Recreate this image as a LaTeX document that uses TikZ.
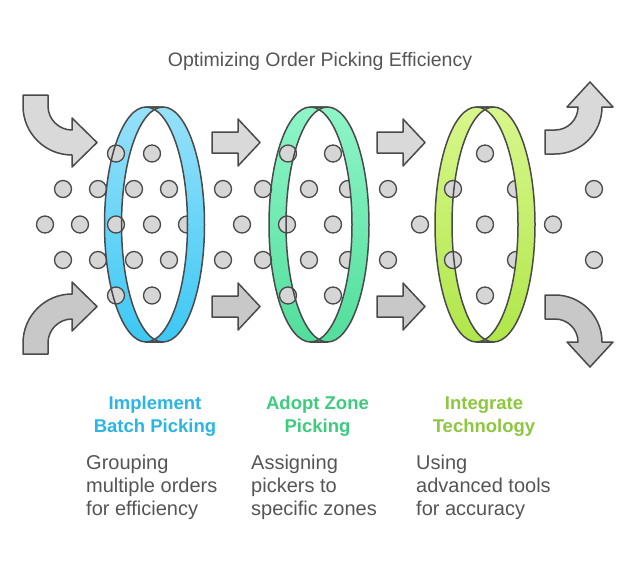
\documentclass[tikz,border=0pt]{standalone}
\usepackage{fontspec}
\setmainfont{Liberation Sans}
\definecolor{lineg}{HTML}{4A4A4A}
\definecolor{dotfill}{HTML}{D6D6D6}
\definecolor{arrlight}{HTML}{D9D9D9}
\definecolor{arrdark}{HTML}{C8C8C8}
\definecolor{txtg}{HTML}{555555}
\definecolor{bluet}{HTML}{96E1FA}
\definecolor{blueb}{HTML}{3CC8F4}
\definecolor{greent}{HTML}{8EF5C8}
\definecolor{greenb}{HTML}{52DE9C}
\definecolor{limet}{HTML}{D8F78C}
\definecolor{limeb}{HTML}{B0E64A}
\definecolor{headblue}{HTML}{2BB5E2}
\definecolor{headgreen}{HTML}{3DCB7E}
\definecolor{headlime}{HTML}{8DC63F}
\newcommand\leftbandpath[1]{({#1-8.5},107) arc[start angle=-90,end angle=-270,x radius=41.5,y radius=117.5] -- ({#1+8.5},342) arc[start angle=90,end angle=270,x radius=41.5,y radius=117.5] -- cycle}
\newcommand\rightbandpath[1]{({#1-8.5},107) arc[start angle=-90,end angle=90,x radius=41.5,y radius=117.5] -- ({#1+8.5},342) arc[start angle=90,end angle=-90,x radius=41.5,y radius=117.5] -- cycle}
\tikzset{
  outl/.style={draw=lineg, line width=1.5pt, line join=round},
  arrowlight/.style={outl, fill=arrlight},
  arrowdark/.style={outl, fill=arrdark},
  dotc/.style={draw=lineg, fill=dotfill, line width=1.3pt},
  titletxt/.style={text=txtg, font=\fontsize{19.5}{23}\selectfont, inner sep=0},
  headtxt/.style={font=\bfseries\fontsize{18.5}{22}\selectfont, inner sep=0},
  bodytxt/.style={text=txtg, font=\fontsize{20}{24}\selectfont, inner sep=0},
}
\begin{document}
\begin{tikzpicture}[x=1pt,y=-1pt]
\useasboundingbox (0,0) rectangle (640,568);

% title
\node[titletxt, anchor=base] (title) at (320,66) {Optimizing Order Picking Efficiency};

% left curved arrows
\draw[arrowlight] (23,95) -- (48,95) -- (48,106) arc[start angle=180,end angle=90,radius=24] -- (72,118) -- (97,142.5) -- (72,167) -- (72,155) arc[start angle=90,end angle=180,radius=49] -- cycle;
\draw[arrowdark] (23,354) -- (48,354) -- (48,343) arc[start angle=180,end angle=270,radius=24] -- (72,331) -- (97,306.5) -- (72,282) -- (72,294) arc[start angle=270,end angle=180,radius=49] -- cycle;

% straight arrows
\foreach \dx in {0,165}{
  \draw[arrowlight] (212+\dx,132) -- (238+\dx,132) -- (238+\dx,119) -- (260+\dx,142.5) -- (238+\dx,166) -- (238+\dx,153) -- (212+\dx,153) -- cycle;
  \draw[arrowdark] (212+\dx,296) -- (238+\dx,296) -- (238+\dx,283) -- (260+\dx,306.5) -- (238+\dx,330) -- (238+\dx,317) -- (212+\dx,317) -- cycle;
}

% right curved arrows
\draw[arrowlight] (545,130) -- (555,130) arc[start angle=90,end angle=0,radius=23] -- (567,107) -- (590,82) -- (613,107) -- (602,107) arc[start angle=0,end angle=90,radius=47] -- (545,154) -- cycle;
\draw[arrowdark] (545,319) -- (555,319) arc[start angle=270,end angle=360,radius=23] -- (567,342) -- (590,367) -- (613,342) -- (602,342) arc[start angle=360,end angle=270,radius=47] -- (545,295) -- cycle;

% back (left) bands
\shade[top color=bluet, bottom color=blueb] \leftbandpath{154.5};
\shade[top color=greent, bottom color=greenb] \leftbandpath{319};
\shade[top color=limet, bottom color=limeb] \leftbandpath{485};

% dots
\foreach \x in {116,152,288,333,485}{
  \draw[dotc] (\x,153.5) circle[radius=8.5];
  \draw[dotc] (\x,295.5) circle[radius=8.5];
}
\foreach \x in {63,98,134,169,223,263,309,348,388,453,516,594}{
  \draw[dotc] (\x,189) circle[radius=8.5];
  \draw[dotc] (\x,260) circle[radius=8.5];
}
\foreach \x in {45,80,116,152,187,242,287,333,420,485,553}{
  \draw[dotc] (\x,224.5) circle[radius=8.5];
}

% front (right) bands
\shade[top color=bluet, bottom color=blueb] \rightbandpath{154.5};
\shade[top color=greent, bottom color=greenb] \rightbandpath{319};
\shade[top color=limet, bottom color=limeb] \rightbandpath{485};

% ring outlines
\foreach \cx in {154.5,319,485}{
  \draw[outl] \leftbandpath{\cx};
  \draw[outl] \rightbandpath{\cx};
}

% headings
\node[headtxt, text=headblue, anchor=base] (h1a) at (155,409) {Implement};
\node[headtxt, text=headblue, anchor=base] (h1b) at (155,432.5) {Batch Picking};
\node[headtxt, text=headgreen, anchor=base] (h2a) at (317.5,409) {Adopt Zone};
\node[headtxt, text=headgreen, anchor=base] (h2b) at (317.5,432.5) {Picking};
\node[headtxt, text=headlime, anchor=base] (h3a) at (484,409) {Integrate};
\node[headtxt, text=headlime, anchor=base] (h3b) at (484,432.5) {Technology};

% descriptions
\node[bodytxt, anchor=base west] (d1a) at (86,469) {Grouping};
\node[bodytxt, anchor=base west] (d1b) at (86,492) {multiple orders};
\node[bodytxt, anchor=base west] (d1c) at (86,515) {for efficiency};
\node[bodytxt, anchor=base west] (d2a) at (251,469) {Assigning};
\node[bodytxt, anchor=base west] (d2b) at (251,492) {pickers to};
\node[bodytxt, anchor=base west] (d2c) at (251,515) {specific zones};
\node[bodytxt, anchor=base west] (d3a) at (416,469) {Using};
\node[bodytxt, anchor=base west] (d3b) at (416,492) {advanced tools};
\node[bodytxt, anchor=base west] (d3c) at (416,515) {for accuracy};
\end{tikzpicture}
\end{document}
